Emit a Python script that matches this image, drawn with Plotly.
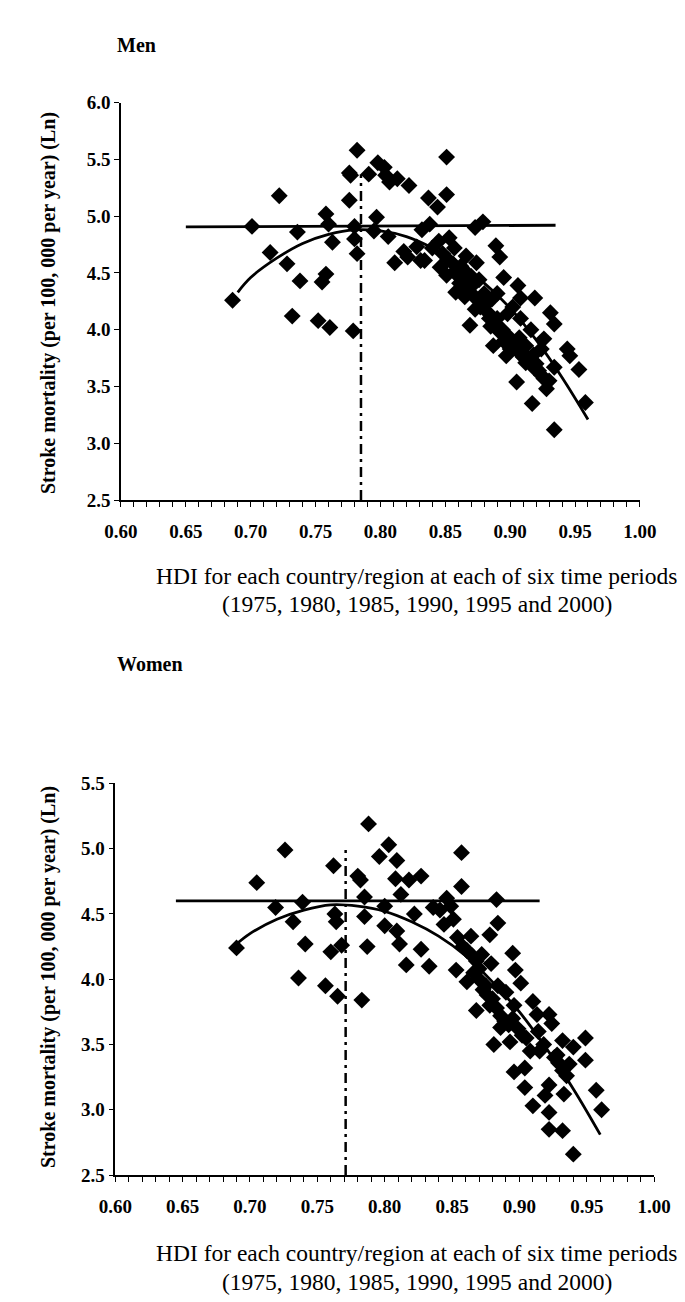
import plotly.graph_objects as go

# ---------------- data: Men ----------------
men_hdi = [0.686, 0.701, 0.715, 0.722, 0.728, 0.736, 0.738, 0.732, 0.752, 0.755, 0.758, 0.758, 0.760,
           0.763, 0.761, 0.776, 0.776, 0.779, 0.782, 0.780, 0.780, 0.782, 0.791, 0.798, 0.803, 0.804,
           0.807, 0.813, 0.822, 0.797, 0.795, 0.806, 0.811, 0.818, 0.821, 0.831, 0.828, 0.832, 0.838,
           0.837, 0.844, 0.851, 0.851, 0.777,
           0.845, 0.853, 0.857, 0.848, 0.840, 0.834, 0.866, 0.874, 0.889, 0.892, 0.846, 0.851, 0.858,
           0.861, 0.858, 0.865, 0.870, 0.878, 0.873, 0.883, 0.890, 0.895, 0.906, 0.908, 0.919, 0.869,
           0.885, 0.890, 0.908, 0.916, 0.931, 0.934, 0.887, 0.895, 0.900, 0.897, 0.907, 0.912, 0.918,
           0.926, 0.924, 0.944, 0.946, 0.934, 0.953, 0.924, 0.928, 0.905, 0.917, 0.958, 0.934, 0.907,
           0.865, 0.880, 0.873, 0.879,
           0.852, 0.856, 0.860, 0.863, 0.867, 0.871, 0.875, 0.877, 0.881, 0.884, 0.888, 0.892, 0.894,
           0.898, 0.902, 0.904, 0.910, 0.914, 0.920, 0.922, 0.926, 0.930, 0.918, 0.912, 0.898, 0.902,
           0.886, 0.862, 0.870, 0.876]
men_mort = [4.26, 4.91, 4.68, 5.18, 4.58, 4.86, 4.43, 4.12, 4.08, 4.42, 4.49, 5.02, 4.93,
            4.77, 4.02, 5.38, 5.14, 3.99, 5.58, 4.91, 4.80, 4.67, 5.37, 5.47, 5.43, 5.36,
            5.30, 5.33, 5.27, 4.99, 4.87, 4.82, 4.59, 4.69, 4.64, 4.61, 4.73, 4.88, 4.93,
            5.16, 5.08, 5.19, 5.52, 5.36,
            4.78, 4.81, 4.72, 4.67, 4.72, 4.61, 4.65, 4.59, 4.74, 4.64, 4.55, 4.48, 4.52,
            4.41, 4.33, 4.29, 4.38, 4.23, 4.18, 4.15, 4.32, 4.46, 4.39, 4.28, 4.28, 4.04,
            4.03, 4.10, 4.10, 4.00, 4.15, 4.05, 3.86, 3.90, 3.83, 3.77, 3.80, 3.71, 3.67,
            3.92, 3.83, 3.83, 3.77, 3.67, 3.65, 3.60, 3.48, 3.54, 3.35, 3.36, 3.12, 3.93,
            4.52, 4.32, 4.90, 4.95,
            4.62, 4.58, 4.47, 4.44, 4.35, 4.31, 4.26, 4.20, 4.22, 4.10, 4.06, 3.98, 4.00,
            3.95, 3.88, 3.84, 3.76, 3.75, 3.70, 3.64, 3.57, 3.55, 3.78, 3.86, 4.14, 4.20,
            4.27, 4.56, 4.47, 4.44]

men_fit_x = [0.69, 0.70, 0.72, 0.74, 0.76, 0.78, 0.80, 0.82, 0.84, 0.86, 0.88, 0.90, 0.92, 0.94, 0.96]
men_fit_y = [4.33, 4.46, 4.63, 4.76, 4.84, 4.88, 4.87, 4.82, 4.72, 4.58, 4.41, 4.19, 3.91, 3.58, 3.21]
men_hline_x = [0.650, 0.935]
men_hline_y = [4.905, 4.920]
men_vline_x = [0.785, 0.785]
men_vline_y = [2.5, 5.37]

# ---------------- data: Women ----------------
women_hdi = [0.690, 0.705, 0.719, 0.726, 0.732, 0.739, 0.741, 0.736, 0.756, 0.760, 0.762, 0.763, 0.764,
             0.768, 0.765, 0.783, 0.780, 0.782, 0.785, 0.785, 0.787, 0.788, 0.796, 0.803, 0.809, 0.808,
             0.812, 0.800, 0.800, 0.809, 0.811, 0.818, 0.827, 0.822, 0.827, 0.816, 0.833, 0.836, 0.841,
             0.844, 0.846, 0.849, 0.851, 0.857, 0.857, 0.854, 0.853, 0.864, 0.879, 0.878, 0.883, 0.884,
             0.895, 0.897, 0.901, 0.872,
             0.858, 0.861, 0.865, 0.868, 0.861, 0.866, 0.870, 0.873, 0.876, 0.880, 0.878, 0.883, 0.886,
             0.889, 0.892, 0.895, 0.899, 0.902, 0.905, 0.875, 0.870, 0.868, 0.881, 0.886, 0.893, 0.896,
             0.904, 0.904, 0.910, 0.913, 0.922, 0.924, 0.914, 0.908, 0.915, 0.910, 0.919, 0.922, 0.922,
             0.922, 0.932, 0.940, 0.933, 0.932, 0.940, 0.926, 0.929, 0.932, 0.935, 0.937, 0.949, 0.949,
             0.957, 0.961, 0.890, 0.884, 0.896, 0.918, 0.928]
women_mort = [4.24, 4.74, 4.55, 4.99, 4.44, 4.59, 4.27, 4.01, 3.95, 4.21, 4.87, 4.50, 4.44,
              4.26, 3.87, 3.84, 4.79, 4.76, 4.63, 4.48, 4.25, 5.19, 4.94, 5.03, 4.91, 4.77,
              4.65, 4.56, 4.41, 4.37, 4.27, 4.76, 4.79, 4.50, 4.23, 4.11, 4.10, 4.55, 4.53,
              4.42, 4.62, 4.56, 4.46, 4.71, 4.97, 4.32, 4.07, 4.33, 4.12, 4.34, 4.61, 4.43,
              4.20, 4.07, 3.97, 4.19,
              4.25, 4.22, 4.18, 4.14, 3.98, 4.05, 4.00, 3.92, 3.88, 3.85, 3.80, 3.78, 3.72,
              3.68, 3.65, 3.70, 3.62, 3.57, 3.55, 3.95, 4.08, 3.76, 3.50, 3.63, 3.52, 3.29,
              3.32, 3.17, 3.83, 3.73, 3.73, 3.66, 3.60, 3.45, 3.45, 3.03, 3.11, 3.19, 2.98,
              2.85, 2.84, 2.66, 3.12, 3.53, 3.48, 3.40, 3.36, 3.30, 3.26, 3.35, 3.55, 3.38,
              3.15, 3.00, 3.90, 3.95, 3.80, 3.50, 3.42]

women_fit_x = [0.69, 0.70, 0.72, 0.74, 0.76, 0.78, 0.80, 0.82, 0.84, 0.86, 0.88, 0.90, 0.92, 0.94, 0.96]
women_fit_y = [4.27, 4.35, 4.46, 4.53, 4.57, 4.56, 4.52, 4.44, 4.33, 4.18, 3.98, 3.75, 3.47, 3.16, 2.81]
women_hline_x = [0.645, 0.915]
women_hline_y = [4.60, 4.60]
women_vline_x = [0.771, 0.771]
women_vline_y = [2.5, 4.99]

x_range = [0.60, 1.00]
men_y_range = [2.5, 6.0]
women_y_range = [2.5, 5.5]

FONT = "Liberation Serif"
W, H = 685, 1302

fig = go.Figure()


def add_panel(xa, ya, hdi, mort, fx, fy, hx, hy, vx, vy):
    fig.add_trace(go.Scatter(x=hx, y=hy, mode="lines", line=dict(color="black", width=2.8),
                             xaxis=xa, yaxis=ya, showlegend=False, hoverinfo="skip"))
    fig.add_trace(go.Scatter(x=vx, y=vy, mode="lines",
                             line=dict(color="black", width=2.5, dash="10px,5px,3px,5px"),
                             xaxis=xa, yaxis=ya, showlegend=False, hoverinfo="skip"))
    fig.add_trace(go.Scatter(x=hdi, y=mort, mode="markers",
                             marker=dict(symbol="diamond", size=13, color="black",
                                         line=dict(width=0)),
                             xaxis=xa, yaxis=ya, showlegend=False))
    fig.add_trace(go.Scatter(x=fx, y=fy, mode="lines", line=dict(color="black", width=2.8, shape="spline"),
                             xaxis=xa, yaxis=ya, showlegend=False, hoverinfo="skip"))


add_panel("x", "y", men_hdi, men_mort, men_fit_x, men_fit_y,
          men_hline_x, men_hline_y, men_vline_x, men_vline_y)
add_panel("x2", "y2", women_hdi, women_mort, women_fit_x, women_fit_y,
          women_hline_x, women_hline_y, women_vline_x, women_vline_y)

tickfont = dict(family=FONT, size=19, color="black", weight="bold")


def xaxis_style(domain, anchor):
    return dict(domain=domain, anchor=anchor, range=x_range, tick0=0.6, dtick=0.05,
                tickformat=".2f", showline=True, linecolor="black", linewidth=1.5,
                ticks="outside", ticklen=5, tickwidth=1, tickcolor="black",
                ticklabelstandoff=8,
                minor=dict(dtick=0.01, tick0=0.6, ticks="outside", ticklen=5, tickwidth=1, tickcolor="black"),
                showgrid=False, zeroline=False, tickfont=tickfont, fixedrange=True)


def yaxis_style(domain, anchor, rng):
    return dict(domain=domain, anchor=anchor, range=rng, dtick=0.5, tick0=2.5,
                tickformat=".1f", showline=True, linecolor="black", linewidth=1.5,
                ticks="outside", ticklen=5, tickwidth=1, tickcolor="black",
                showgrid=False, zeroline=False, tickfont=tickfont, fixedrange=True)


fig.update_layout(
    width=W, height=H, autosize=False,
    margin=dict(l=0, r=0, t=0, b=0),
    paper_bgcolor="white", plot_bgcolor="white",
    xaxis=xaxis_style([101 / W, 647 / W], "y"),
    yaxis=yaxis_style([1 - 490 / H, 1 - 86 / H], "x", men_y_range),
    xaxis2=xaxis_style([95 / W, 662 / W], "y2"),
    yaxis2=yaxis_style([1 - 1176 / H, 1 - 778 / H], "x2", women_y_range),
)

ann = []
# panel titles
ann.append(dict(text="Men", x=95 / W, y=1 - 27 / H, xanchor="left", yanchor="middle",
                font=dict(family=FONT, size=20, color="black", weight="bold")))
ann.append(dict(text="Women", x=95 / W, y=1 - 657 / H, xanchor="left", yanchor="middle",
                font=dict(family=FONT, size=20, color="black", weight="bold")))
# x titles
for y1, y2 in [(567, 596), (1255, 1285)]:
    ann.append(dict(text="HDI for each country/region at each of six time periods",
                    x=412 / W, y=1 - y1 / H, xanchor="center", yanchor="middle",
                    font=dict(family=FONT, size=23.5, color="black")))
    ann.append(dict(text="(1975, 1980, 1985, 1990, 1995 and 2000)",
                    x=412 / W, y=1 - y2 / H, xanchor="center", yanchor="middle",
                    font=dict(family=FONT, size=23.5, color="black")))
# y titles
for yc in [290, 975]:
    ann.append(dict(text="Stroke mortality (per 100, 000 per year) (Ln)", textangle=-90,
                    x=25 / W, y=1 - yc / H, xanchor="center", yanchor="middle",
                    font=dict(family=FONT, size=20, color="black", weight="bold")))

for a in ann:
    a.update(xref="paper", yref="paper", showarrow=False)
fig.update_layout(annotations=ann)

fig.write_html("out.html")
